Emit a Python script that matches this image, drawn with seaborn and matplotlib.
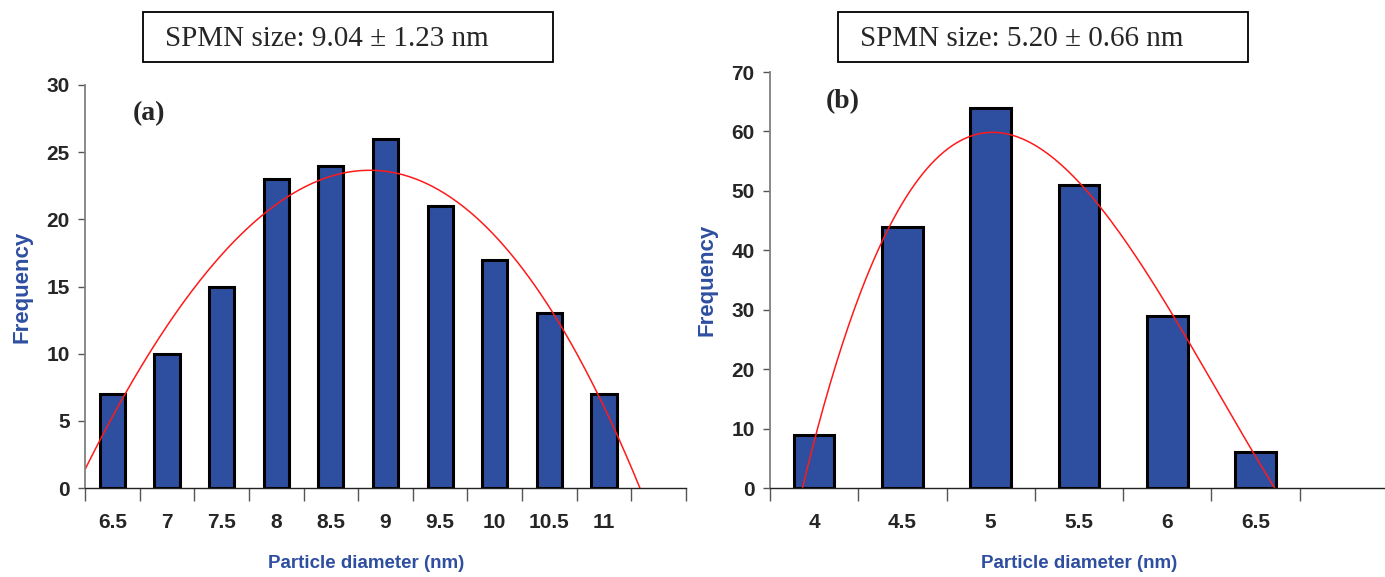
import numpy as np
import pandas as pd
import matplotlib
matplotlib.use("Agg")
import matplotlib.pyplot as plt
import seaborn as sns
from matplotlib.patches import Rectangle

# ---- data ----
labels_a = ["6.5", "7", "7.5", "8", "8.5", "9", "9.5", "10", "10.5", "11"]
freq_a = [7, 10, 15, 23, 24, 26, 21, 17, 13, 7]
labels_b = ["4", "4.5", "5", "5.5", "6", "6.5"]
freq_b = [9, 44, 64, 51, 29, 6]
title_a = "SPMN size: 9.04 \u00b1 1.23 nm"
title_b = "SPMN size: 5.20 \u00b1 0.66 nm"
yticks_a = [0, 5, 10, 15, 20, 25, 30]
yticks_b = [0, 10, 20, 30, 40, 50, 60, 70]

sns.set_theme(style="white")
plt.rcParams['font.family'] = ['Liberation Sans Narrow', 'Liberation Sans', 'DejaVu Sans']

BAR = "#2e4ea0"
BLUE = "#2e4ea0"
W, H = 1385, 577
fig = plt.figure(figsize=(W / 100, H / 100), dpi=100)


def px_axes(x0, y0, x1, y1):
    return fig.add_axes([x0 / W, 1 - y1 / H, (x1 - x0) / W, (y1 - y0) / H])


def panel(ax, labels, freq, yticks, order, tag, tagpos, xlab_x):
    n = len(labels)
    df = pd.DataFrame({"d": labels, "f": freq})
    sns.barplot(data=df, x="d", y="f", ax=ax, color=BAR, edgecolor="black",
                linewidth=2.2, width=0.46, saturation=1)
    # trendline (polynomial fit of the histogram, as in the source)
    xi = np.arange(n)
    coef = np.polyfit(xi, np.array(freq, float), order)
    xs = np.linspace(-0.5, n + 0.5, 300)
    ys = np.polyval(coef, xs)
    sns.lineplot(x=xs, y=ys, ax=ax, color="#ff1a1a", linewidth=1.1, sort=False)
    ax.set_xlim(-0.5, n + 0.5)
    ax.set_ylim(yticks[0], yticks[-1])
    ax.set_yticks(yticks)
    ax.set_yticklabels([str(t) for t in yticks], fontsize=15, fontweight="bold")
    ax.set_xticks(np.arange(-0.5, n + 1, 1.0))
    ax.set_xticklabels([])
    ax.set_xticks(np.arange(n), minor=True)
    ax.set_xticklabels(labels, minor=True, fontsize=15, fontweight="bold")
    ax.tick_params(axis="x", which="major", length=9, width=1, color="#555555", direction="out", bottom=True)
    ax.tick_params(axis="x", which="minor", length=0, pad=18, bottom=True)
    ax.tick_params(axis="y", length=5, width=1, color="#555555", direction="out", pad=6, left=True)
    for s in ["top", "right"]:
        ax.spines[s].set_visible(False)
    ax.spines["left"].set_color("#808080")
    ax.spines["left"].set_linewidth(1.3)
    ax.spines["bottom"].set_color("#222222")
    ax.spines["bottom"].set_linewidth(1.0)
    ax.set_xlabel("Particle diameter (nm)", fontsize=13.5, fontweight="bold", color=BLUE)
    ax.xaxis.set_label_coords(xlab_x, -67 / ax.bbox.height)
    ax.set_ylabel("Frequency", fontsize=16, fontweight="bold", color=BLUE, labelpad=10)
    ax.text(tagpos[0], tagpos[1], tag, transform=ax.transAxes, fontsize=20,
            fontweight="bold", family="Liberation Serif", ha="left", va="center")
    ax.grid(False)


ax_a = px_axes(85, 85, 686, 488)
panel(ax_a, labels_a, freq_a, yticks_a, 3, "(a)", (0.08, 0.93), 0.467)
ax_b = px_axes(770, 72, 1388, 488)
panel(ax_b, labels_b, freq_b, yticks_b, 3, "(b)", (0.09, 0.93), 0.5)


def title_box(x0, y0, x1, y1, text, tx):
    fig.patches.append(Rectangle((x0 / W, 1 - y1 / H), (x1 - x0) / W, (y1 - y0) / H,
                                 transform=fig.transFigure, fill=False,
                                 edgecolor="black", linewidth=1.3))
    fig.text(tx / W, 1 - ((y0 + y1) / 2 + 2) / H, text, family="Liberation Serif",
             fontsize=21, ha="left", va="center")


title_box(143, 12, 553, 62, title_a, 165)
title_box(838, 12, 1248, 62, title_b, 860)

fig.savefig("out.png", dpi=100)
